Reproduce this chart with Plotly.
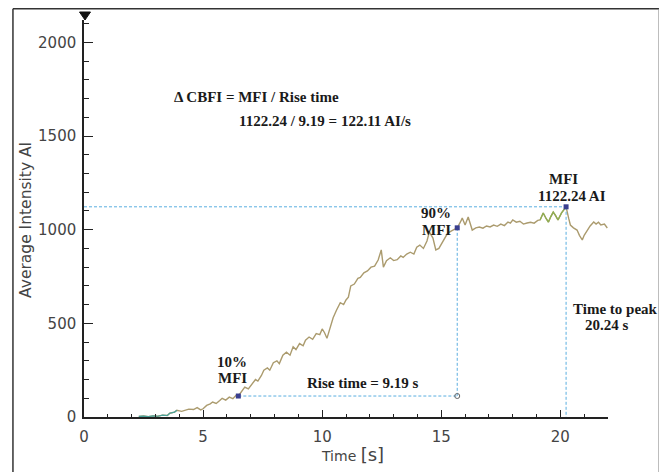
import plotly.graph_objects as go

# ---- data ----
time_s = [2.3, 2.5, 2.7, 2.9, 3.1, 3.3, 3.5, 3.6, 3.8, 3.9, 4.1, 4.2, 4.4, 4.6, 4.75, 4.9,
          5.0, 5.15, 5.3, 5.4, 5.55, 5.7, 5.8, 5.95, 6.1, 6.25, 6.4, 6.48, 6.6, 6.75, 6.9,
          7.05, 7.2, 7.3, 7.45, 7.55, 7.7, 7.8, 7.95, 8.1, 8.2, 8.35, 8.5, 8.65, 8.78, 8.9,
          9.05, 9.2, 9.3, 9.45, 9.6, 9.75, 9.9, 10.0, 10.1, 10.2, 10.35, 10.46, 10.6, 10.76,
          10.9, 11.0, 11.1, 11.2, 11.35, 11.5, 11.6, 11.75, 11.9, 12.05, 12.2, 12.35, 12.48,
          12.57, 12.7, 12.86, 13.0, 13.15, 13.3, 13.4, 13.55, 13.7, 13.85, 13.97, 14.1, 14.25,
          14.4, 14.5, 14.65, 14.77, 14.9, 14.98, 15.1, 15.27, 15.45, 15.67, 15.8, 15.88, 16.0,
          16.13, 16.3, 16.45, 16.6, 16.75, 16.9, 17.05, 17.2, 17.35, 17.5, 17.65, 17.8, 17.9,
          18.0, 18.15, 18.3, 18.45, 18.6, 18.75, 18.9, 19.05, 19.15, 19.28, 19.4, 19.5, 19.6,
          19.7, 19.8, 19.9, 20.05, 20.24, 20.35, 20.42, 20.55, 20.7, 20.8, 20.92, 21.0, 21.13,
          21.25, 21.4, 21.5, 21.6, 21.7, 21.85, 21.97]
intensity = [3, 5, 2, 6, 4, 10, 8, 20, 26, 36, 30, 34, 42, 40, 50, 38,
             44, 62, 70, 80, 72, 88, 100, 90, 106, 98, 118, 112, 132, 160, 150,
             178, 200, 192, 222, 250, 262, 250, 290, 300, 285, 330, 346, 330, 375, 360,
             392, 380, 410, 427, 415, 445, 440, 470, 450, 420, 490, 530, 570, 610,
             600, 625, 640, 700, 710, 740, 745, 770, 780, 800, 805, 838, 892,
             800, 835, 850, 835, 840, 860, 852, 870, 880, 870, 907, 918, 900,
             940, 988, 955, 892, 900, 918, 950, 982, 995, 1010, 1040, 1062, 1025,
             1068, 998, 1010, 1014, 1008, 1020, 1015, 1025, 1018, 1030, 1022, 1041, 1035,
             1052, 1040, 1045, 1030, 1036, 1040, 1035, 1050, 1052, 1089, 1060, 1041, 1070,
             1094, 1075, 1052, 1090, 1122.24, 1060, 1025, 1010, 998, 970, 945, 970, 998,
             1020, 1041, 1030, 1040, 1025, 1030, 1009]

mfi = 1122.24
t_peak = 20.24
t10 = 6.48
t90 = 15.67
v10 = 112
v90 = 1010

x_ticks = [0, 5, 10, 15, 20]
y_ticks = [0, 500, 1000, 1500, 2000]

# ---- page geometry (browser body has an 8px margin) ----
OFF = 8
WIN_W, WIN_H = 667, 472
W, H = WIN_W - OFF, WIN_H - OFF
PL, PR, PT, PB = 84, 607.6, 20, 417
ml, mt = PL - OFF, PT - OFF
mr, mb = WIN_W - PR, WIN_H - PB
pw = PR - PL
ph = PB - PT

X0, XS = 84.0, 23.8
Y0, YS = 417.0, 0.1873


def px_x(p):
    return (p - X0) / XS


def px_y(p):
    return (Y0 - p) / YS


def paper_x(p):
    return (p - PL) / pw


def paper_y(p):
    return (PB - p) / ph


tan = "#ab9b6e"
teal = "#4aa39a"
green = "#8fae52"
dash_col = "#5aaee0"
mk_col = "#3a3f8f"

fig = go.Figure()

fig.add_trace(go.Scatter(x=time_s, y=intensity, mode="lines",
                         line=dict(color=tan, width=1.4), hoverinfo="skip"))
n_teal = 10
fig.add_trace(go.Scatter(x=time_s[:n_teal], y=intensity[:n_teal], mode="lines",
                         line=dict(color=teal, width=1.2), hoverinfo="skip"))
i0 = time_s.index(19.15)
i1 = time_s.index(20.24) + 1
fig.add_trace(go.Scatter(x=time_s[i0:i1], y=intensity[i0:i1], mode="lines",
                         line=dict(color=green, width=1.3), hoverinfo="skip"))

dash = "3px,2px"
fig.add_trace(go.Scatter(x=[0, t_peak], y=[mfi, mfi], mode="lines",
                         line=dict(color=dash_col, width=1, dash=dash), hoverinfo="skip"))
fig.add_trace(go.Scatter(x=[t_peak, t_peak], y=[mfi, 0], mode="lines",
                         line=dict(color=dash_col, width=1, dash=dash), hoverinfo="skip"))
fig.add_trace(go.Scatter(x=[t90, t90], y=[v90, v10], mode="lines",
                         line=dict(color=dash_col, width=1, dash=dash), hoverinfo="skip"))
fig.add_trace(go.Scatter(x=[t10, t90], y=[v10, v10], mode="lines",
                         line=dict(color=dash_col, width=1, dash=dash), hoverinfo="skip"))

fig.add_trace(go.Scatter(x=[t10, t90, t_peak], y=[v10, v90, mfi], mode="markers",
                         marker=dict(symbol="square", size=5, color=mk_col), hoverinfo="skip"))
fig.add_trace(go.Scatter(x=[t90], y=[v10], mode="markers",
                         marker=dict(symbol="circle-open", size=5, color="#666666", line=dict(width=1)),
                         hoverinfo="skip"))

serif = dict(family="Liberation Serif, Times New Roman, serif", size=15, color="#1a1a1a")


def ann(text, px, py, xanchor="center", font=serif):
    fig.add_annotation(x=px_x(px), y=px_y(py), text=text, showarrow=False,
                       xanchor=xanchor, yanchor="middle", font=font)


ann("<b>Δ CBFI = MFI / Rise time</b>", 172, 97, "left")
ann("<b>1122.24 / 9.19 = 122.11 AI/s</b>", 237, 121, "left")
ann("<b>MFI</b>", 563, 179)
ann("<b>1122.24 AI</b>", 572, 196)
ann("<b>90%</b>", 436, 213)
ann("<b>MFI</b>", 436, 230)
ann("<b>Time to peak</b>", 571, 309, "left")
ann("<b>20.24 s</b>", 607, 325)
ann("<b>10%</b>", 232, 362)
ann("<b>MFI</b>", 232, 378)
ann("<b>Rise time = 9.19 s</b>", 363, 383)

sans_col = "#444444"
tickfont = dict(family="DejaVu Sans, sans-serif", size=15, color=sans_col)

fig.add_annotation(xref="paper", yref="paper", x=paper_x(352), y=paper_y(455),
                   text="Time <span style='font-size:18px'>[s]</span>", showarrow=False,
                   xanchor="center", yanchor="middle",
                   font=dict(family="DejaVu Sans, sans-serif", size=14, color=sans_col))
fig.add_annotation(xref="paper", yref="paper", x=paper_x(26), y=paper_y(220),
                   text="Average Intensity AI", showarrow=False, textangle=-90,
                   xanchor="center", yanchor="middle",
                   font=dict(family="DejaVu Sans, sans-serif", size=15.5, color=sans_col))

fig.update_xaxes(range=[0, 22], tickvals=x_ticks, ticktext=[str(v) for v in x_ticks],
                 automargin=False, ticklabelstandoff=5,
                 showgrid=False, zeroline=False, showline=True, linecolor="#222222", linewidth=1.5,
                 ticks="inside", ticklen=7, tickwidth=1.3, tickcolor="#222222",
                 minor=dict(dtick=1, tick0=0, ticks="inside", ticklen=3, tickwidth=1, tickcolor="#222222"),
                 tickfont=tickfont)
fig.update_yaxes(range=[0, px_y(PT)], tickvals=y_ticks, ticktext=[str(v) for v in y_ticks],
                 automargin=False, ticklabelstandoff=3,
                 showgrid=False, zeroline=False, showline=True, linecolor="#222222", linewidth=1.5,
                 ticks="inside", ticklen=9, tickwidth=1.3, tickcolor="#222222",
                 minor=dict(dtick=100, tick0=0, ticks="inside", ticklen=5, tickwidth=1, tickcolor="#222222"),
                 tickfont=tickfont)

# outer frame
fig.add_shape(type="line", xref="paper", yref="paper", x0=paper_x(13), x1=paper_x(659),
              y0=paper_y(8.8), y1=paper_y(8.8), line=dict(color="#333333", width=1.5))
fig.add_shape(type="line", xref="paper", yref="paper", x0=paper_x(13), x1=paper_x(13),
              y0=paper_y(8.8), y1=paper_y(472), line=dict(color="#333333", width=1.5))
fig.add_shape(type="line", xref="paper", yref="paper", x0=paper_x(659.5), x1=paper_x(659.5),
              y0=paper_y(8.8), y1=paper_y(472), line=dict(color="#8a8a8a", width=3))
fig.add_shape(type="path", xref="paper", yref="paper",
              path=f"M {paper_x(79.5)} {paper_y(12)} L {paper_x(90.5)} {paper_y(12)} L {paper_x(85)} {paper_y(20)} Z",
              fillcolor="#111111", line=dict(color="#111111", width=1))

fig.update_layout(width=W, height=H, margin=dict(l=ml, r=mr, t=mt, b=mb),
                  paper_bgcolor="white", plot_bgcolor="white", showlegend=False)

fig.write_html("out.html")
